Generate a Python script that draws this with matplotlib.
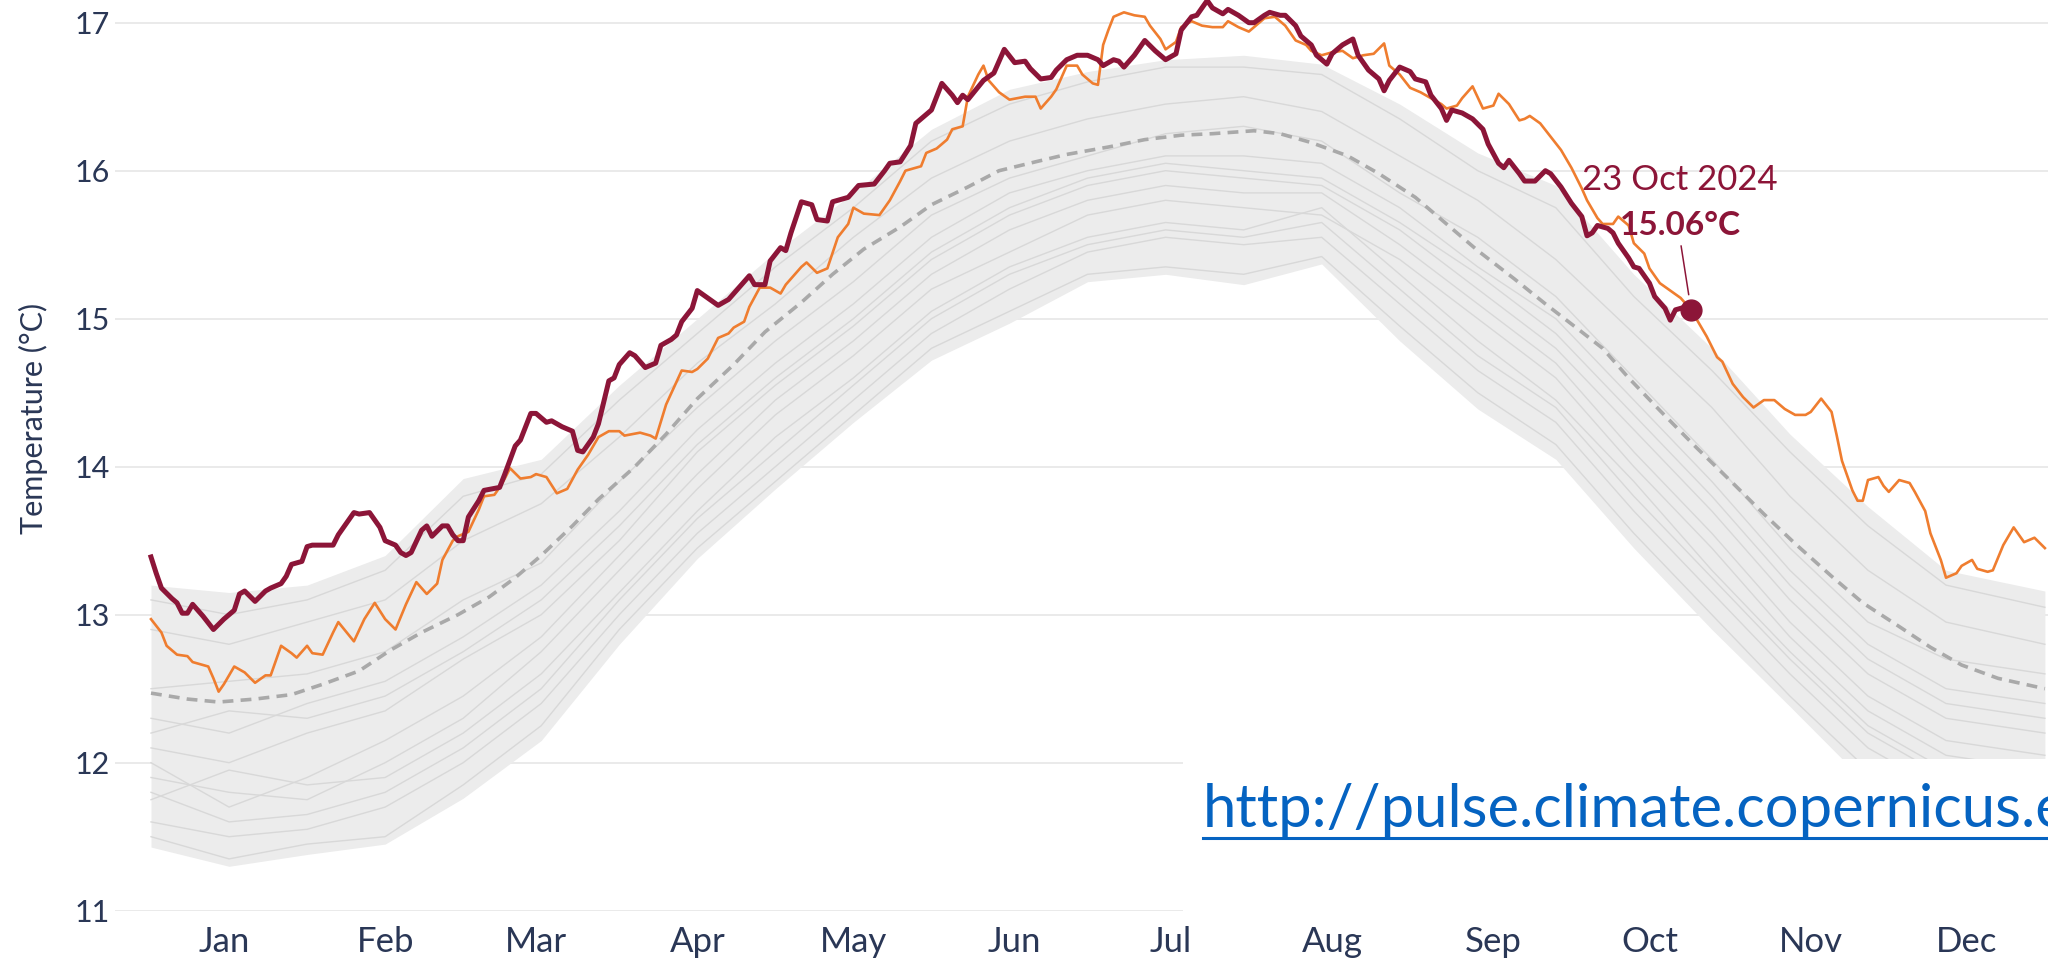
import numpy as np
import matplotlib
matplotlib.use("Agg")
import matplotlib.pyplot as plt
from matplotlib.patches import Rectangle
from matplotlib.lines import Line2D

# daily global surface air temperature, day-of-year (0 = 1 Jan)
year_2024 = [
    (0, 13.39), (1, 13.28), (2, 13.18), (4, 13.11), (5, 13.08), (6, 13.01), (7, 13.01), (8, 13.07),
    (10, 12.99), (12, 12.90), (14, 12.97), (16, 13.03), (17, 13.14), (18, 13.16), (20, 13.09),
    (22, 13.16), (23, 13.18), (25, 13.21), (26, 13.26), (27, 13.34), (29, 13.36), (30, 13.46),
    (31, 13.47), (35, 13.47), (36, 13.54), (37, 13.59), (39, 13.69), (40, 13.68), (42, 13.69),
    (44, 13.59), (45, 13.50), (47, 13.47), (48, 13.42), (49, 13.40), (50, 13.42), (52, 13.57),
    (53, 13.60), (54, 13.53), (56, 13.60), (57, 13.60), (58, 13.54), (59, 13.50), (60, 13.50),
    (61, 13.66), (63, 13.77), (64, 13.84), (67, 13.86), (68, 13.95), (70, 14.14), (71, 14.18),
    (73, 14.36), (74, 14.36), (76, 14.30), (77, 14.31), (79, 14.27), (81, 14.24), (82, 14.11),
    (83, 14.10), (85, 14.20), (86, 14.29), (88, 14.58), (89, 14.60), (90, 14.69), (92, 14.77),
    (93, 14.75), (95, 14.67), (97, 14.70), (98, 14.82), (100, 14.86), (101, 14.89), (102, 14.98),
    (104, 15.07), (105, 15.19), (107, 15.14), (109, 15.09), (111, 15.13), (113, 15.21), (115, 15.29),
    (116, 15.23), (118, 15.23), (119, 15.39), (121, 15.48), (122, 15.46), (123, 15.58), (125, 15.79),
    (127, 15.77), (128, 15.67), (130, 15.66), (131, 15.79), (134, 15.82), (136, 15.90), (139, 15.91),
    (141, 16.00), (142, 16.05), (144, 16.06), (146, 16.17), (147, 16.32), (148, 16.35), (150, 16.41),
    (152, 16.59), (154, 16.51), (155, 16.46), (156, 16.51), (157, 16.48), (160, 16.61), (162, 16.66),
    (164, 16.82), (166, 16.73), (168, 16.74), (169, 16.69), (171, 16.62), (173, 16.63), (174, 16.68),
    (176, 16.75), (178, 16.78), (180, 16.78), (182, 16.75), (183, 16.71), (185, 16.75), (186, 16.74),
    (187, 16.70), (189, 16.78), (191, 16.88), (193, 16.81), (195, 16.75), (197, 16.79), (198, 16.95),
    (200, 17.04), (201, 17.05), (203, 17.15), (204, 17.10), (206, 17.06), (207, 17.09), (209, 17.05),
    (211, 17.00), (212, 17.00), (214, 17.05), (215, 17.07), (217, 17.05), (218, 17.05), (220, 16.98),
    (221, 16.91), (223, 16.85), (224, 16.78), (226, 16.72), (227, 16.79), (229, 16.85), (231, 16.89),
    (232, 16.78), (234, 16.68), (236, 16.62), (237, 16.54), (238, 16.61), (240, 16.70), (242, 16.67),
    (243, 16.62), (245, 16.60), (246, 16.51), (248, 16.42), (249, 16.34), (250, 16.41), (252, 16.39),
    (254, 16.35), (256, 16.28), (257, 16.18), (259, 16.05), (260, 16.02), (261, 16.07), (263, 15.98),
    (264, 15.93), (266, 15.93), (268, 16.00), (269, 15.98), (271, 15.89), (273, 15.78), (275, 15.69),
    (276, 15.56), (277, 15.58), (278, 15.63), (280, 15.61), (281, 15.58), (282, 15.51), (284, 15.41),
    (285, 15.35), (286, 15.34), (288, 15.24), (289, 15.15), (291, 15.07), (292, 14.99), (293, 15.06),
    (295, 15.08), (296, 15.06),
]

year_2023 = [
    (0, 12.97), (2, 12.88), (3, 12.79), (5, 12.73), (7, 12.72), (8, 12.68), (11, 12.65), (12, 12.57),
    (13, 12.48), (14, 12.53), (16, 12.65), (18, 12.61), (20, 12.54), (22, 12.59), (23, 12.59),
    (25, 12.79), (27, 12.74), (28, 12.71), (30, 12.79), (31, 12.74), (33, 12.73), (35, 12.88),
    (36, 12.95), (39, 12.82), (41, 12.97), (43, 13.08), (45, 12.97), (47, 12.90), (49, 13.07),
    (51, 13.22), (53, 13.14), (55, 13.21), (56, 13.37), (58, 13.50), (59, 13.53), (61, 13.56),
    (63, 13.71), (64, 13.80), (66, 13.81), (67, 13.86), (68, 13.92), (69, 13.99), (71, 13.92),
    (73, 13.93), (74, 13.95), (76, 13.93), (78, 13.82), (80, 13.85), (82, 13.98), (84, 14.08),
    (86, 14.20), (88, 14.24), (90, 14.24), (91, 14.21), (94, 14.23), (96, 14.21), (97, 14.19),
    (99, 14.42), (102, 14.65), (104, 14.64), (105, 14.66), (107, 14.73), (109, 14.87), (111, 14.90),
    (112, 14.94), (114, 14.98), (115, 15.08), (117, 15.21), (119, 15.21), (121, 15.17), (122, 15.23),
    (125, 15.35), (126, 15.38), (128, 15.31), (130, 15.34), (132, 15.55), (134, 15.64), (135, 15.75),
    (137, 15.71), (140, 15.70), (142, 15.80), (144, 15.93), (145, 16.00), (148, 16.03), (149, 16.12),
    (151, 16.15), (153, 16.21), (154, 16.28), (156, 16.30), (157, 16.50), (159, 16.65), (160, 16.71),
    (161, 16.61), (163, 16.53), (165, 16.48), (168, 16.50), (170, 16.50), (171, 16.42), (173, 16.50),
    (174, 16.55), (176, 16.71), (178, 16.71), (179, 16.65), (181, 16.59), (182, 16.58), (183, 16.85),
    (184, 16.95), (185, 17.04), (187, 17.07), (189, 17.05), (191, 17.04), (192, 16.98), (194, 16.89),
    (195, 16.82), (197, 16.87), (198, 16.97), (200, 17.01), (202, 16.98), (204, 16.97), (206, 16.97),
    (207, 17.01), (209, 16.97), (211, 16.94), (213, 17.00), (214, 17.03), (216, 17.04), (218, 16.98),
    (220, 16.88), (222, 16.85), (223, 16.81), (225, 16.78), (227, 16.80), (229, 16.81), (231, 16.76),
    (233, 16.78), (235, 16.79), (237, 16.86), (238, 16.71), (240, 16.65), (242, 16.56), (244, 16.53),
    (246, 16.49), (248, 16.45), (249, 16.42), (251, 16.44), (252, 16.49), (254, 16.57), (256, 16.42),
    (258, 16.44), (259, 16.52), (261, 16.45), (263, 16.34), (264, 16.35), (265, 16.37), (267, 16.32),
    (269, 16.23), (271, 16.14), (273, 16.02), (275, 15.88), (276, 15.80), (278, 15.68), (279, 15.64),
    (281, 15.64), (282, 15.69), (284, 15.63), (285, 15.51), (287, 15.44), (288, 15.34), (290, 15.24),
    (292, 15.19), (294, 15.14), (295, 15.10), (297, 15.00), (299, 14.88), (301, 14.74), (302, 14.71),
    (304, 14.56), (306, 14.47), (308, 14.40), (310, 14.45), (312, 14.45), (314, 14.39), (316, 14.35),
    (318, 14.35), (319, 14.37), (321, 14.46), (323, 14.37), (324, 14.21), (325, 14.04), (327, 13.84),
    (328, 13.77), (329, 13.77), (330, 13.91), (332, 13.93), (333, 13.87), (334, 13.83), (336, 13.91),
    (338, 13.89), (339, 13.83), (341, 13.70), (342, 13.55), (344, 13.37), (345, 13.25), (347, 13.28),
    (348, 13.33), (350, 13.37), (351, 13.31), (353, 13.29), (354, 13.30), (356, 13.47), (358, 13.59),
    (360, 13.49), (362, 13.52), (364, 13.45),
]

# 1991-2020 average (dashed)
clim_mean = [
    (0, 12.47), (7, 12.43), (13, 12.41), (20, 12.43), (27, 12.46), (33, 12.53), (40, 12.62),
    (46, 12.76), (52, 12.88), (59, 13.00), (65, 13.12), (70, 13.25), (75, 13.40), (81, 13.60),
    (86, 13.78), (93, 14.00), (99, 14.22), (105, 14.46), (112, 14.69), (118, 14.91), (125, 15.11),
    (131, 15.30), (137, 15.47), (144, 15.62), (150, 15.77), (157, 15.89), (163, 16.00), (170, 16.06),
    (176, 16.11), (184, 16.16), (191, 16.21), (198, 16.24), (204, 16.25), (212, 16.27), (217, 16.25),
    (223, 16.19), (230, 16.10), (236, 15.98), (243, 15.82), (249, 15.64), (255, 15.46), (262, 15.27),
    (268, 15.10), (275, 14.91), (279, 14.80), (284, 14.60), (290, 14.38), (297, 14.13), (304, 13.89),
    (310, 13.68), (316, 13.48), (323, 13.26), (329, 13.08), (336, 12.92), (342, 12.78), (348, 12.66),
    (355, 12.57), (364, 12.50),
]

# spread of the earlier years (1940-2022)
past_days = [0, 15, 30, 45, 60, 75, 90, 105, 120, 135, 150, 165, 180, 195, 210, 225, 240, 255,
             270, 285, 300, 315, 330, 345, 364]
past_upper = [13.20, 13.15, 13.20, 13.40, 13.92, 14.05, 14.55, 15.00, 15.45, 15.85, 16.28, 16.55,
              16.67, 16.75, 16.78, 16.72, 16.45, 16.12, 15.90, 15.30, 14.80, 14.22, 13.73, 13.30, 13.16]
past_lower = [11.43, 11.30, 11.38, 11.45, 11.76, 12.15, 12.80, 13.38, 13.85, 14.30, 14.72, 14.97,
              15.25, 15.30, 15.23, 15.37, 14.85, 14.39, 14.05, 13.45, 12.90, 12.38, 11.85, 11.55, 11.43]
past_years = [
    [12.90, 12.80, 12.95, 13.10, 13.50, 13.75, 14.20, 14.70, 15.10, 15.55, 15.95, 16.20, 16.35,
     16.45, 16.50, 16.40, 16.10, 15.80, 15.40, 14.90, 14.40, 13.80, 13.30, 12.95, 12.80],
    [12.10, 12.00, 12.20, 12.35, 12.70, 13.00, 13.50, 14.10, 14.55, 14.95, 15.40, 15.70, 15.90,
     16.00, 15.95, 15.90, 15.60, 15.20, 14.80, 14.25, 13.70, 13.10, 12.60, 12.30, 12.20],
    [11.60, 11.50, 11.55, 11.70, 12.00, 12.40, 13.00, 13.55, 14.00, 14.45, 14.90, 15.20, 15.45,
     15.55, 15.50, 15.55, 15.10, 14.65, 14.30, 13.70, 13.15, 12.60, 12.10, 11.80, 11.65],
    [11.90, 11.80, 11.75, 12.00, 12.30, 12.75, 13.30, 13.85, 14.35, 14.75, 15.20, 15.45, 15.70,
     15.80, 15.75, 15.70, 15.40, 15.00, 14.60, 14.00, 13.45, 12.85, 12.35, 12.05, 11.95],
    [12.50, 12.55, 12.60, 12.75, 13.10, 13.35, 13.90, 14.40, 14.85, 15.25, 15.70, 15.95, 16.10,
     16.25, 16.30, 16.20, 15.85, 15.55, 15.15, 14.60, 14.05, 13.45, 12.95, 12.70, 12.60],
    [11.75, 11.95, 11.85, 11.90, 12.20, 12.60, 13.15, 13.70, 14.20, 14.60, 15.05, 15.35, 15.55,
     15.65, 15.60, 15.75, 15.30, 14.85, 14.45, 13.90, 13.30, 12.75, 12.25, 11.95, 11.80],
    [12.30, 12.20, 12.40, 12.55, 12.85, 13.20, 13.70, 14.25, 14.70, 15.10, 15.55, 15.85, 16.00,
     16.10, 16.10, 16.05, 15.75, 15.35, 15.00, 14.45, 13.90, 13.30, 12.80, 12.50, 12.40],
    [12.00, 11.70, 11.90, 12.15, 12.45, 12.85, 13.40, 13.95, 14.45, 14.85, 15.30, 15.60, 15.80,
     15.90, 15.85, 15.85, 15.50, 15.10, 14.70, 14.10, 13.55, 12.95, 12.45, 12.15, 12.05],
    [13.10, 13.00, 13.10, 13.30, 13.80, 13.95, 14.45, 14.90, 15.35, 15.75, 16.20, 16.45, 16.60,
     16.70, 16.70, 16.65, 16.35, 16.00, 15.75, 15.15, 14.65, 14.10, 13.60, 13.20, 13.05],
    [11.50, 11.35, 11.45, 11.50, 11.85, 12.25, 12.90, 13.45, 13.90, 14.35, 14.80, 15.05, 15.30,
     15.35, 15.30, 15.42, 14.95, 14.50, 14.15, 13.55, 13.00, 12.45, 11.95, 11.65, 11.50],
    [11.80, 11.60, 11.65, 11.80, 12.10, 12.50, 13.10, 13.65, 14.10, 14.55, 15.00, 15.30, 15.50,
     15.60, 15.55, 15.65, 15.20, 14.75, 14.40, 13.80, 13.25, 12.70, 12.20, 11.90, 11.75],
    [12.20, 12.35, 12.30, 12.45, 12.75, 13.10, 13.60, 14.15, 14.60, 15.00, 15.45, 15.75, 15.95,
     16.05, 16.00, 15.95, 15.65, 15.30, 14.90, 14.35, 13.80, 13.20, 12.70, 12.40, 12.30],
]

month_names = ["Jan", "Feb", "Mar", "Apr", "May", "Jun", "Jul", "Aug", "Sep", "Oct", "Nov", "Dec"]
month_len = [31, 29, 31, 30, 31, 30, 31, 31, 30, 31, 30, 31]
y_ticks = [11, 12, 13, 14, 15, 16, 17]

last_label = "23 Oct 2024"
last_value = "15.06°C"
url = "http://pulse.climate.copernicus.eu"

RED = "#8c1538"
ORANGE = "#ef7d2f"
GREY = "#d8d8d8"
TXT = "#2a3756"

W, H = 2048, 964
fig = plt.figure(figsize=(W / 100, H / 100), dpi=100)
ax = fig.add_axes([115 / W, 53.3 / H, 1 - 115 / W, 910.7 / H])

ax.fill_between(past_days, past_lower, past_upper, color="#ececec", lw=0, zorder=1)
for yr in past_years:
    ax.plot(past_days, yr, color=GREY, lw=1.0, zorder=1.5)

m = np.array(clim_mean)
ax.plot(m[:, 0], m[:, 1], color="#a9a9a9", lw=2.6, ls=(0, (3, 2)), zorder=2)

o = np.array(year_2023)
ax.plot(o[:, 0], o[:, 1], color=ORANGE, lw=1.9, zorder=3, solid_joinstyle="round")

r = np.array(year_2024)
ax.plot(r[:, 0], r[:, 1], color=RED, lw=3.6, zorder=4, solid_joinstyle="round")
ax.plot(r[-1, 0], r[-1, 1], "o", color=RED, ms=15, zorder=5)

# annotation for the latest value
ax.annotate("", xy=(r[-1, 0], r[-1, 1]), xytext=(-10, 64), textcoords="offset pixels",
            arrowprops=dict(arrowstyle="-", color=RED, lw=1.1, shrinkA=0, shrinkB=11))
ax.annotate(last_value, xy=(r[-1, 0], r[-1, 1]), xytext=(-11, 75), textcoords="offset pixels",
            ha="center", va="baseline", fontsize=24, fontweight="bold", color=RED,
            family="Lato", zorder=6)
ax.annotate(last_label, xy=(r[-1, 0], r[-1, 1]), xytext=(-11, 120), textcoords="offset pixels",
            ha="center", va="baseline", fontsize=25, color=RED, family="Lato", zorder=6)

# axes styling
starts = np.concatenate([[0], np.cumsum(month_len)[:-1]])
ax.set_xticks(starts + 14)
ax.set_xticklabels(month_names)
ax.set_yticks(y_ticks)
ax.set_xlim(-6.92, 364.6)
ax.set_ylim(11, 11 + 910.7 / 148)
ax.grid(axis="y", color="#e6e6e6", lw=1.2, zorder=0)
ax.set_axisbelow(True)
for s in ax.spines.values():
    s.set_visible(False)
ax.tick_params(axis="both", length=0, colors=TXT)
ax.tick_params(axis="x", pad=11, labelsize=25)
ax.tick_params(axis="y", pad=4, labelsize=22)
for lab in ax.get_xticklabels() + ax.get_yticklabels():
    lab.set_family("Lato")

fig.text(33 / W, 1 - 418 / H, "Temperature (°C)", rotation=90, ha="center", va="center",
         fontsize=22, color=TXT, family="Lato")

# pasted link box over the lower right corner
fig.add_artist(Rectangle((1183 / W, 1 - 918 / H), 1, (918 - 759) / H,
                         transform=fig.transFigure, facecolor="white", edgecolor="none", zorder=10))
fig.text(1203 / W, 1 - 827 / H, url, ha="left", va="baseline", fontsize=43,
         color="#0563c1", family="Lato", zorder=11)
fig.add_artist(Line2D([1203 / W, 1], [1 - 838 / H, 1 - 838 / H], transform=fig.transFigure,
                      color="#0563c1", lw=2.2, zorder=11))

fig.savefig("out.png", dpi=100)
